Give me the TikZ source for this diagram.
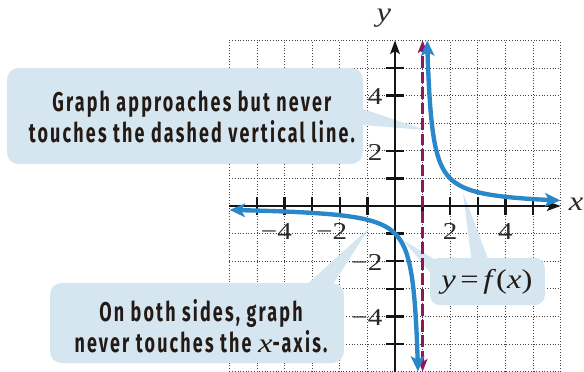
\documentclass[tikz,border=0pt]{standalone}
\usepackage{fontspec}
\setmainfont{Liberation Serif}
\newfontfamily\handfont[FakeStretch=0.66, LetterSpace=8]{Fira Sans}
\newfontfamily\numfont[FakeStretch=1.2]{Liberation Serif}
\usetikzlibrary{arrows.meta}
\definecolor{callout}{HTML}{D5E6F1}
\definecolor{curveblue}{HTML}{2A87C9}
\definecolor{asym}{HTML}{921658}
\definecolor{ink}{HTML}{231A15}
\definecolor{axisink}{HTML}{151515}
\definecolor{numink}{HTML}{2E2925}
\tikzset{
  gridline/.style={draw=black!75, line width=0.7pt, dash pattern=on 0.7pt off 2.1pt},
  calloutbox/.style={fill=callout, rounded corners=0.42cm, inner sep=0pt},
  wedge/.style={fill=callout},
  axisline/.style={draw=axisink, line width=2.3pt, -{Stealth[length=14pt,width=10pt,inset=3pt]}},
  tickmark/.style={draw=axisink, line width=2.3pt},
  asymline/.style={draw=asym, line width=2.3pt, dash pattern=on 12pt off 4pt,
    {Stealth[length=13pt,width=10pt,inset=3pt]}-{Stealth[length=13pt,width=10pt,inset=3pt]}},
  curveline/.style={draw=curveblue, line width=4.5pt, line join=round,
    {Stealth[length=16pt,width=14pt,inset=4pt]}-{Stealth[length=16pt,width=14pt,inset=4pt]}},
  handtext/.style={text=ink, align=center, inner sep=0pt,
    font=\handfont\bfseries\fontsize{28pt}{32pt}\selectfont},
  numlab/.style={text=numink, inner sep=0pt, font=\numfont\fontsize{25pt}{28pt}\selectfont},
  axislab/.style={text=numink, inner sep=0pt, font=\numfont\itshape\fontsize{28pt}{30pt}\selectfont},
}
\begin{document}
\begin{tikzpicture}[x=1cm,y=1cm]
\useasboundingbox (-14.312,-6.014) rectangle (6.848,7.464);

% grid
\draw[gridline] (-6,-6) grid (6,6);

% callout boxes with pointers
\node[calloutbox, minimum width=12.9cm, minimum height=3.48cm] (box1) at (-7.61,3.26) {};
\fill[wedge] (-1.6,3.66) -- (1.12,2.75) -- (-1.6,2.97) -- cycle;
\node[calloutbox, minimum width=10.65cm, minimum height=2.9cm] (box2) at (-7.175,-4.24) {};
\fill[wedge] (-3.70,-3.3) -- (-0.94,-0.80) -- (-2.54,-3.3) -- cycle;
\node[calloutbox, minimum width=4.16cm, minimum height=1.71cm, rounded corners=0.35cm] (box3) at (3.35,-2.735) {};
\fill[wedge] (0.29,-1.23) -- (1.62,-2.05) -- (1.55,-2.75) -- cycle;
\fill[wedge] (2.46,0.51) -- (2.79,-2.1) -- (3.44,-2.1) -- cycle;

% axes
\coordinate (xl) at (-6,0); \coordinate (xr) at (6,0);
\coordinate (yb) at (0,-6); \coordinate (yt) at (0,6);
\draw[axisline] (xl) -- (xr);
\draw[axisline] (yb) -- (yt);
\foreach \k in {-5,...,5} {
  \ifnum\k=0\else
    \draw[tickmark] (\k,-0.31) -- (\k,0.31);
  \fi
}
\foreach \k in {-5,-4,-3,-2,-1,1,2,4,5} {
  \draw[tickmark] (-0.31,\k) -- (0.31,\k);
}

% asymptote
\coordinate (ab) at (1,-6); \coordinate (at) at (1,6);
\draw[asymline] (ab) -- (at);

% curve y = 1/(x-1)
\draw[curveline] plot[domain=-1.7918:1.6094, samples=90, variable=\t] ({1+exp(\t)},{exp(-\t)});
\draw[curveline] plot[domain=-1.7918:1.9459, samples=90, variable=\t] ({1-exp(\t)},{-exp(-\t)});

% axis numbers
\node[numlab, anchor=east] (y4) at (-0.45,3.95) {4};
\node[numlab, anchor=east] (y2) at (-0.45,1.95) {2};
\node[numlab, anchor=east] (ym2) at (-0.45,-2.05) {−2};
\node[numlab, anchor=east] (ym4) at (-0.45,-4.05) {−4};
\node[numlab] (xm4) at (-4,-0.92) {\llap{−}4};
\node[numlab] (xm2) at (-2,-0.92) {\llap{−}2};
\node[numlab] (x2) at (2,-0.92) {2};
\node[numlab] (x4) at (4,-0.92) {4};
\node[axislab] (ylab) at (-0.40,6.80) {y};
\node[axislab] (xlab) at (6.56,0.08) {x};

% callout texts
\node[handtext] (t1) at (-7.36,3.24) {Graph approaches but never\\touches the dashed vertical line.};
\node[handtext] (t2) at (-7.03,-4.36) {On both sides, graph\\never touches the {\numfont\itshape\mdseries x}-axis.};
\node[text=ink, inner sep=0pt, font=\numfont\fontsize{28pt}{30pt}\selectfont] (t3) at (3.33,-2.75)
  {\textit{y}\,=\,\textit{f}(\textit{x})};
\end{tikzpicture}
\end{document}
